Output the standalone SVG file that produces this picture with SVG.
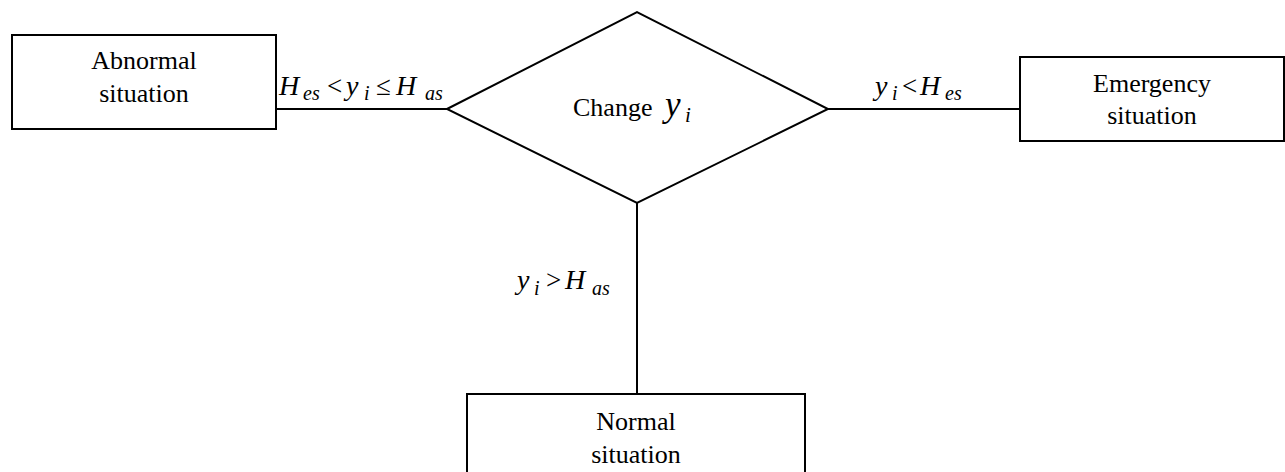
<svg xmlns="http://www.w3.org/2000/svg" width="1285" height="472" viewBox="0 0 1285 472">
<style>
text{font-family:'Liberation Serif','Times New Roman',serif;fill:#000}
.box{fill:#fff;stroke:#000;stroke-width:2}
.ln{fill:none;stroke:#000;stroke-width:2}
.t{font-size:26px}
.m{font-size:28px;font-style:italic}
.s{font-size:20px;font-style:italic}
.o{font-size:27px}
</style>
<rect width="1285" height="472" fill="#fff"/>
<g id="connectors">
<line class="ln" x1="276" y1="109" x2="447" y2="109"/>
<line class="ln" x1="828" y1="109" x2="1020" y2="109"/>
<line class="ln" x1="637" y1="203" x2="637" y2="394"/>
<g id="label-abnormal">
<text class="m" x="279" y="95">H</text><text class="s" x="303" y="100">es</text>
<text class="o" x="327" y="95">&lt;</text>
<text class="m" x="346" y="95">y</text><text class="s" x="364" y="100">i</text>
<text class="o" x="376" y="95">≤</text>
<text class="m" x="396" y="95">H</text><text class="s" x="425" y="100">as</text>
</g>
<g id="label-emergency">
<text class="m" x="875" y="95">y</text><text class="s" x="892" y="100">i</text>
<text class="o" x="902" y="95">&lt;</text>
<text class="m" x="920" y="95">H</text><text class="s" x="945" y="100">es</text>
</g>
<g id="label-normal">
<text class="m" x="517" y="289">y</text><text class="s" x="534" y="295">i</text>
<text class="o" x="546" y="289">&gt;</text>
<text class="m" x="565" y="289">H</text><text class="s" x="592" y="295">as</text>
</g>
</g>
<g id="abnormal">
<rect class="box" x="12" y="35" width="264" height="94"/>
<text class="t" x="144" y="69" text-anchor="middle">Abnormal</text>
<text class="t" x="144" y="102" text-anchor="middle">situation</text>
</g>
<g id="decision">
<polygon class="box" points="447,109 637,12 828,109 637,203"/>
<text class="t" x="573" y="116">Change</text>
<text x="665" y="116" style="font-size:35px;font-style:italic">y</text>
<text x="685" y="122" style="font-size:21px;font-style:italic">i</text>
</g>
<g id="emergency">
<rect class="box" x="1020" y="57" width="264" height="84"/>
<text class="t" x="1152" y="92" text-anchor="middle">Emergency</text>
<text class="t" x="1152" y="124" text-anchor="middle">situation</text>
</g>
<g id="normal">
<rect class="box" x="467" y="394" width="338" height="90"/>
<text class="t" x="636" y="430" text-anchor="middle">Normal</text>
<text class="t" x="636" y="463" text-anchor="middle">situation</text>
</g>
</svg>
